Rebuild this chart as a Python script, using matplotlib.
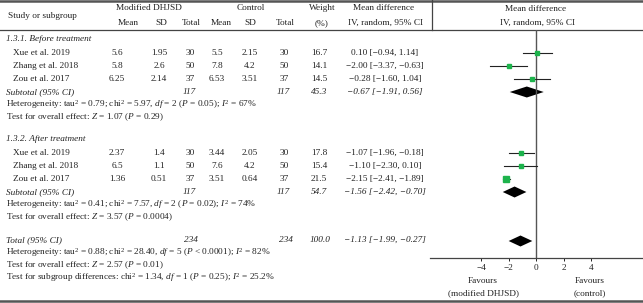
import numpy as np
import matplotlib
matplotlib.use("Agg")
import matplotlib.pyplot as plt

plt.rcParams['font.family'] = ['Liberation Serif', 'DejaVu Serif']
plt.rcParams['mathtext.fontset'] = 'custom'
plt.rcParams['mathtext.rm'] = 'Liberation Serif'
plt.rcParams['mathtext.it'] = 'Liberation Serif:italic'

# Study data
studies = ["Xue et al. 2019", "Zhang et al. 2018", "Zou et al. 2017"]
before_exp_mean = ["5.6", "5.8", "6.25"]
before_exp_sd = ["1.95", "2.6", "2.14"]
before_exp_n = ["30", "50", "37"]
before_ctl_mean = ["5.5", "7.8", "6.53"]
before_ctl_sd = ["2.15", "4.2", "3.51"]
before_ctl_n = ["30", "50", "37"]
before_weight = [16.7, 14.1, 14.5]
before_md = [0.10, -2.00, -0.28]
before_lo = [-0.94, -3.37, -1.60]
before_hi = [1.14, -0.63, 1.04]
before_sub = (-0.67, -1.91, 0.56)

after_exp_mean = ["2.37", "6.5", "1.36"]
after_exp_sd = ["1.4", "1.1", "0.51"]
after_exp_n = ["30", "50", "37"]
after_ctl_mean = ["3.44", "7.6", "3.51"]
after_ctl_sd = ["2.05", "4.2", "0.64"]
after_ctl_n = ["30", "50", "37"]
after_weight = [17.8, 15.4, 21.5]
after_md = [-1.07, -1.10, -2.15]
after_lo = [-1.96, -2.30, -2.41]
after_hi = [-0.18, 0.10, -1.89]
after_sub = (-1.56, -2.42, -0.70)

total = (-1.13, -1.99, -0.27)
xticks = [-4, -2, 0, 2, 4]

W, H = 643, 303
fig = plt.figure(figsize=(W / 100, H / 100), dpi=100)
ax = fig.add_axes([0, 0, 1, 1])
ax.set_xlim(0, W)
ax.set_ylim(H, 0)
ax.axis('off')

fs = 6.7
green = '#1db34c'


def txt(x, y, s, ha='center', style='normal'):
    ax.text(x, y, s, ha=ha, va='center', fontsize=fs, style=style, color='#222222')


def fmt_ci(md, lo, hi):
    f = lambda v: ("%.2f" % v).replace('-', '\u2212')
    return "%s [%s, %s]" % (f(md), f(lo), f(hi))


# rules
ax.plot([0, W], [1.2, 1.2], color='#555555', lw=1.8)
ax.plot([0, W], [30, 30], color='#444444', lw=0.9)
ax.plot([0, W], [301, 301], color='#555555', lw=1.8)
ax.plot([432, 432], [0, 30], color='#444444', lw=0.9)

# header
txt(8, 16, "Study or subgroup", ha='left')
txt(149, 8, "Modified DHJSD")
txt(251, 8, "Control")
txt(322, 8, "Weight")
txt(384, 8, "Mean difference")
txt(536, 9, "Mean difference")
for x, s in [(128, "Mean"), (161, "SD"), (191, "Total"), (221, "Mean"),
             (250, "SD"), (285, "Total"), (322, "(%)"),
             (385, "IV, random, 95% CI"), (537, "IV, random, 95% CI")]:
    txt(x, 23, s)

col_x = [117, 159, 190, 217, 250, 284]


def group(y0, title, em, es, en, cm, cs, cn, wt, md, lo, hi, sub, sub_n, het, test):
    txt(6, y0, title, ha='left', style='italic')
    rows = [y0 + 14 + 13 * i for i in range(len(studies))]
    for i, y in enumerate(rows):
        txt(13, y, studies[i], ha='left')
        for x, v in zip(col_x, [em[i], es[i], en[i], cm[i], cs[i], cn[i]]):
            txt(x, y, v)
        txt(319, y, "%.1f" % wt[i])
        txt(385, y, fmt_ci(md[i], lo[i], hi[i]))
    ys = rows[-1] + 13
    txt(6, ys, "Subtotal (95% CI)", ha='left', style='italic')
    txt(189, ys, str(sub_n), style='italic')
    txt(283, ys, str(sub_n), style='italic')
    txt(319, ys, "%.1f" % sum(wt), style='italic')
    txt(385, ys, fmt_ci(*sub), style='italic')
    txt(6, ys + 12.5, het, ha='left')
    txt(6, ys + 25, test, ha='left')
    return rows, ys


r1, s1 = group(39, "1.3.1. Before treatment", before_exp_mean, before_exp_sd, before_exp_n,
               before_ctl_mean, before_ctl_sd, before_ctl_n, before_weight,
               before_md, before_lo, before_hi, before_sub, 117,
               r"Heterogeneity: tau$^2$ = 0.79; chi$^2$ = 5.97, $df$ = 2 ($P$ = 0.05); $I^2$ = 67%",
               r"Test for overall effect: $Z$ = 1.07 ($P$ = 0.29)")
r2, s2 = group(139, "1.3.2. After treatment", after_exp_mean, after_exp_sd, after_exp_n,
               after_ctl_mean, after_ctl_sd, after_ctl_n, after_weight,
               after_md, after_lo, after_hi, after_sub, 117,
               r"Heterogeneity: tau$^2$ = 0.41; chi$^2$ = 7.57, $df$ = 2 ($P$ = 0.02); $I^2$ = 74%",
               r"Test for overall effect: $Z$ = 3.57 ($P$ = 0.0004)")

yt = 240
txt(6, yt, "Total (95% CI)", ha='left', style='italic')
txt(191, yt, "234", style='italic')
txt(286, yt, "234", style='italic')
txt(320, yt, "100.0", style='italic')
txt(385, yt, fmt_ci(*total), style='italic')
txt(6, yt + 12.5, r"Heterogeneity: tau$^2$ = 0.88; chi$^2$ = 28.40, $df$ = 5 ($P$ < 0.0001); $I^2$ = 82%", ha='left')
txt(6, yt + 25, r"Test for overall effect: $Z$ = 2.57 ($P$ = 0.01)", ha='left')
txt(6, yt + 37.5, r"Test for subgroup differences: chi$^2$ = 1.34, $df$ = 1 ($P$ = 0.25); $I^2$ = 25.2%", ha='left')

# forest panel
top, bot = 30, 258
fx = fig.add_axes([430 / W, (H - bot) / H, (W - 430) / W, (bot - top) / H])
fx.set_xlim(-7.71, 7.78)
fx.set_ylim(bot, top)
fx.patch.set_alpha(0)
for s in ['top', 'left', 'right']:
    fx.spines[s].set_visible(False)
fx.spines['bottom'].set_color('#444444')
fx.spines['bottom'].set_linewidth(0.9)
fx.set_yticks([])
fx.set_xticks(xticks)
fx.set_xticklabels([str(t).replace('-', '\u2212') for t in xticks])
fx.tick_params(axis='x', length=2.5, width=0.7, labelsize=fs, pad=2, colors='#222222')
fx.axvline(0, color='#555555', lw=1.0)

for rows, md, lo, hi, wt in [(r1, before_md, before_lo, before_hi, before_weight),
                             (r2, after_md, after_lo, after_hi, after_weight)]:
    for y, m, l, h, w in zip(rows, md, lo, hi, wt):
        fx.plot([l, h], [y, y], color='#222222', lw=0.8)
        fx.plot(m, y, marker='s', color=green, ms=0.8 * np.sqrt(w), mec=green)


def diamond(y, md, lo, hi, hh=5.5):
    fx.fill([lo, md, hi, md], [y, y - hh, y, y + hh], color='black', lw=0)


diamond(s1, *before_sub)
diamond(s2, *after_sub)
diamond(yt + 1, *total)

txt(483, 281, "Favours")
txt(483, 293, "(modified DHJSD)")
txt(590, 281, "Favours")
txt(590, 293, "(control)")

fig.savefig("out.png", dpi=100)
